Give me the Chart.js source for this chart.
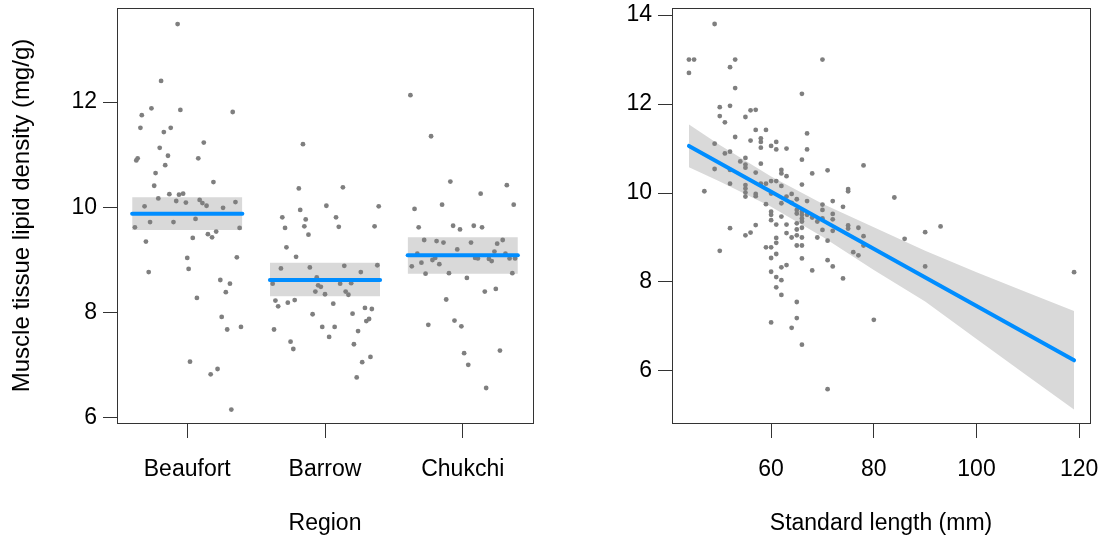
<!DOCTYPE html>
<html>
<head>
<meta charset="utf-8">
<script src="https://cdn.jsdelivr.net/npm/chart.js@4.4.1/dist/chart.umd.min.js"></script>
<style>
  html, body { margin: 0; padding: 0; background: #fff; }
  #wrap { position: relative; width: 1102px; height: 539px; }
  canvas { position: absolute; top: 0; }
</style>
</head>
<body>
<div id="wrap">
  <canvas id="regionChart" width="551" height="539" style="left:0"></canvas>
  <canvas id="lengthChart" width="551" height="539" style="left:551px"></canvas>
</div>
<script>
// left panel: lipid density by region (partial residuals, jittered)
const regions = ['Beaufort', 'Barrow', 'Chukchi'];
const regionFit = [9.88, 8.62, 9.09];
const regionUpper = [10.19, 8.95, 9.43];
const regionLower = [9.57, 8.31, 8.74];

const beaufortJitter = [-0.07, -0.19, -0.26, -0.05, 0.33, -0.33, -0.34, -0.12, -0.17, 0.12, -0.20, -0.14, 0.08, -0.36, -0.37, -0.16, -0.23, 0.19, -0.24, -0.13, -0.06, -0.03, -0.21, -0.08, -0.01, 0.09, 0.11, 0.14, -0.31, 0.26, 0.35, 0.06, -0.27, -0.10, -0.38, 0.38, -0.30, 0.04, 0.21, 0.15, 0.18, 0.00, 0.36, 0.01, -0.28, 0.24, 0.31, 0.28, 0.07, 0.25, 0.39, 0.29, 0.02, 0.22, 0.17, 0.32];
const beaufortLipid = [13.48, 12.40, 11.88, 11.85, 11.81, 11.75, 11.51, 11.51, 11.43, 11.23, 11.13, 10.98, 10.93, 10.93, 10.89, 10.80, 10.65, 10.48, 10.41, 10.25, 10.24, 10.26, 10.17, 10.12, 10.09, 10.14, 10.08, 10.03, 10.02, 9.99, 10.10, 9.78, 9.72, 9.72, 9.62, 9.61, 9.35, 9.42, 9.54, 9.49, 9.43, 9.04, 9.05, 8.83, 8.77, 8.62, 8.55, 8.39, 8.28, 7.92, 7.73, 7.68, 7.07, 6.93, 6.83, 6.16];

const barrowJitter = [-0.16, -0.19, 0.13, 0.01, 0.39, -0.18, -0.31, -0.14, 0.08, -0.29, -0.15, 0.10, 0.36, -0.12, -0.28, -0.21, -0.32, -0.11, 0.14, 0.38, 0.26, -0.06, -0.38, -0.05, -0.03, 0.11, 0.19, -0.07, 0.00, 0.15, 0.17, -0.36, -0.34, -0.27, -0.22, 0.06, -0.09, 0.20, 0.29, 0.34, 0.30, 0.32, -0.37, -0.02, 0.07, 0.24, 0.03, -0.25, -0.23, 0.21, 0.33, 0.27, 0.23];
const barrowLipid = [11.20, 10.36, 10.38, 10.03, 10.02, 9.95, 9.81, 9.77, 9.81, 9.61, 9.64, 9.63, 9.64, 9.48, 9.24, 9.06, 8.84, 8.86, 8.89, 8.90, 8.77, 8.67, 8.55, 8.52, 8.49, 8.55, 8.56, 8.40, 8.35, 8.40, 8.34, 8.23, 8.12, 8.19, 8.24, 8.17, 7.97, 7.98, 8.09, 8.07, 7.84, 7.88, 7.68, 7.73, 7.73, 7.65, 7.54, 7.45, 7.31, 7.40, 7.16, 7.06, 6.77];

const chukchiJitter = [-0.38, -0.23, -0.09, 0.32, 0.13, -0.35, -0.15, 0.37, -0.32, -0.07, -0.02, 0.08, 0.14, -0.28, -0.19, -0.14, 0.06, 0.25, 0.29, -0.04, 0.23, -0.33, 0.31, -0.22, -0.20, 0.09, 0.11, 0.19, 0.21, 0.34, 0.38, -0.37, -0.30, -0.17, -0.27, -0.10, 0.36, 0.03, 0.24, 0.16, -0.12, -0.25, -0.06, -0.01, 0.01, 0.27, 0.04, 0.17];
const chukchiLipid = [12.13, 11.35, 10.49, 10.42, 10.26, 9.97, 10.05, 10.05, 9.62, 9.65, 9.58, 9.65, 9.62, 9.38, 9.36, 9.33, 9.33, 9.31, 9.38, 9.20, 9.16, 9.12, 9.12, 9.00, 9.04, 9.04, 9.03, 9.02, 8.98, 9.03, 9.03, 8.88, 8.95, 8.92, 8.74, 8.75, 8.75, 8.66, 8.45, 8.40, 8.25, 7.77, 7.85, 7.74, 7.23, 7.28, 7.01, 6.57];

// right panel: lipid density vs standard length
const standardLength = [49, 44, 45, 44, 52, 53, 53, 50, 52, 50, 51, 55, 56, 57, 57, 59, 53, 56, 58, 58, 58, 60, 61, 61, 63, 49, 51, 52, 55, 54, 55, 55, 58, 49, 52, 57, 62, 62, 63, 52, 47, 59, 60, 61, 58, 55, 55, 55, 55, 57, 57, 60, 62, 63, 64, 65, 59, 62, 64,
  60, 60, 60, 62, 65, 52, 57, 56, 55, 61, 63, 65, 65, 63, 64, 65, 61, 61, 60, 59, 65, 50, 61, 60, 63, 62, 60, 61, 62, 61, 62, 65, 65, 64, 60,
  70, 66, 67, 67, 66, 71, 78, 68, 66, 75, 75, 84, 67, 70, 72, 74, 65, 66, 66, 66, 66, 68, 69, 70, 70, 72, 72, 66, 66, 69, 70, 72, 75, 75, 77, 78, 78, 71, 66, 86, 90, 93, 66, 71, 72, 68, 76, 77, 74, 90, 80, 66, 71, 119, 67];
const lengthLipid = [13.80, 13.00, 13.00, 12.70, 12.83, 13.00, 12.36, 11.93, 11.96, 11.73, 11.59, 11.71, 11.86, 11.87, 11.42, 11.42, 11.26, 11.18, 11.23, 11.15, 11.02, 11.06, 11.15, 10.98, 11.00, 11.11, 10.89, 10.93, 10.79, 10.71, 10.64, 10.57, 10.66, 10.54, 10.52, 10.46, 10.52, 10.44, 10.38, 10.21, 10.04, 10.21, 10.27, 10.27, 10.21, 10.18, 10.10, 10.01, 9.92, 9.98, 9.93, 9.99, 10.16, 9.92, 9.98, 9.86, 9.75, 9.77, 9.78,
  9.58, 9.51, 9.39, 9.47, 9.54, 9.21, 9.28, 9.11, 9.05, 9.29, 9.29, 9.32, 9.18, 9.10, 9.00, 9.05, 8.99, 8.88, 8.78, 8.78, 8.82, 8.70, 8.63, 8.54, 8.38, 8.33, 8.23, 8.11, 8.04, 7.88, 7.71, 7.55, 7.19, 6.97, 7.09,
  13.00, 12.23, 11.34, 10.98, 10.75, 10.51, 10.62, 10.44, 10.19, 10.09, 10.04, 9.90, 9.82, 9.74, 9.82, 9.69, 9.62, 9.58, 9.51, 9.43, 9.36, 9.45, 9.36, 9.62, 9.43, 9.53, 9.41, 9.22, 9.00, 9.00, 9.17, 9.15, 9.27, 9.20, 9.22, 9.03, 8.82, 8.93, 8.82, 8.97, 9.12, 9.25, 8.53, 8.49, 8.35, 8.26, 8.67, 8.60, 8.08, 8.35, 7.15, 6.59, 5.59, 8.22, 9.51];

const fitLength = [44, 119];
const fitLipid = [11.06, 6.24];
const bandLength = [44, 50, 60, 70, 80, 90, 100, 110, 119];
const bandUpper = [11.54, 11.08, 10.37, 9.76, 9.23, 8.70, 8.22, 7.76, 7.35];
const bandLower = [10.58, 10.26, 9.69, 9.02, 8.27, 7.56, 6.72, 5.88, 5.13];

const FONT = { family: '"Liberation Sans", Arial, sans-serif', size: 23 };
const YTITLE_FONT = { family: '"Liberation Sans", Arial, sans-serif', size: 24 };
const AXIS_COLOR = '#333333';
const TEXT_COLOR = '#000000';
const POINT_COLOR = '#7f7f7f';
const LINE_COLOR = '#008dff';
const BAND_COLOR = '#d9d9d9';

// R-style box round the plot region
const boxPlugin = {
  id: 'box',
  afterDraw(chart) {
    const { ctx, chartArea: a } = chart;
    ctx.save();
    ctx.strokeStyle = AXIS_COLOR;
    ctx.lineWidth = 1;
    ctx.strokeRect(Math.round(a.left) + 0.5, Math.round(a.top) + 0.5,
      Math.round(a.right - a.left), Math.round(a.bottom - a.top));
    ctx.restore();
  }
};

function xAxis(min, max, step, title, callback) {
  return {
    type: 'linear', min, max,
    afterFit(s) { s.height = 116; s.paddingLeft = 0; s.paddingRight = 0; },
    grid: { display: true, drawOnChartArea: false, drawTicks: true, tickLength: 15, tickColor: AXIS_COLOR, tickWidth: 1 },
    border: { display: false },
    ticks: { stepSize: step, includeBounds: false, autoSkip: false, maxRotation: 0, font: FONT, color: TEXT_COLOR, padding: 18, callback },
    title: { display: true, text: title, font: FONT, color: TEXT_COLOR, padding: { top: 0, bottom: 2 } }
  };
}

function yAxis(min, max, width, title) {
  return {
    type: 'linear', min, max,
    afterFit(s) { s.width = width; s.paddingTop = 0; s.paddingBottom = 0; },
    grid: { display: true, drawOnChartArea: false, drawTicks: true, tickLength: 14, tickColor: AXIS_COLOR, tickWidth: 1 },
    border: { display: false },
    ticks: { stepSize: 2, includeBounds: false, font: FONT, color: TEXT_COLOR, padding: 6 },
    title: { display: !!title, text: title || '', font: YTITLE_FONT, color: TEXT_COLOR, padding: { top: 8, bottom: 0 } }
  };
}

function pointSet(data) {
  return { type: 'scatter', data, pointRadius: 2.4, pointHoverRadius: 2.4, backgroundColor: POINT_COLOR, borderWidth: 0 };
}

function lineSet(data) {
  return { type: 'line', data, borderColor: LINE_COLOR, borderWidth: 4, borderCapStyle: 'round', pointRadius: 0, fill: false };
}

function bandSet(data, fill) {
  return { type: 'line', data, borderWidth: 0, borderColor: 'rgba(0,0,0,0)', backgroundColor: BAND_COLOR, pointRadius: 0, fill };
}

const baseOptions = {
  responsive: false,
  animation: false,
  devicePixelRatio: 1,
  plugins: { legend: { display: false }, tooltip: { enabled: false } }
};

// left chart
const regionJitter = [beaufortJitter, barrowJitter, chukchiJitter];
const regionLipid = [beaufortLipid, barrowLipid, chukchiLipid];

const leftLines = regions.map((r, i) => lineSet([
  { x: i + 1 - 0.4, y: regionFit[i] }, { x: i + 1 + 0.4, y: regionFit[i] }
]));
const leftPoints = regions.map((r, i) => pointSet(
  regionJitter[i].map((j, k) => ({ x: i + 1 + j, y: regionLipid[i][k] }))
));
const leftBands = [];
regions.forEach((r, i) => {
  leftBands.push(bandSet([{ x: i + 1 - 0.4, y: regionUpper[i] }, { x: i + 1 + 0.4, y: regionUpper[i] }], '+1'));
  leftBands.push(bandSet([{ x: i + 1 - 0.4, y: regionLower[i] }, { x: i + 1 + 0.4, y: regionLower[i] }], false));
});

new Chart(document.getElementById('regionChart'), {
  type: 'scatter',
  data: { datasets: [...leftLines, ...leftPoints, ...leftBands] },
  options: {
    ...baseOptions,
    layout: { padding: { left: 0, right: 18, top: 8, bottom: 0 } },
    scales: {
      x: xAxis(0.49, 3.51, 1, 'Region', v => regions[v - 1] || ''),
      y: yAxis(5.905, 13.785, 117, 'Muscle tissue lipid density (mg/g)')
    }
  },
  plugins: [boxPlugin]
});

// right chart
new Chart(document.getElementById('lengthChart'), {
  type: 'scatter',
  data: {
    datasets: [
      lineSet(fitLength.map((x, i) => ({ x, y: fitLipid[i] }))),
      pointSet(standardLength.map((x, i) => ({ x, y: lengthLipid[i] }))),
      bandSet(bandLength.map((x, i) => ({ x, y: bandUpper[i] })), '+1'),
      bandSet(bandLength.map((x, i) => ({ x, y: bandLower[i] })), false)
    ]
  },
  options: {
    ...baseOptions,
    layout: { padding: { left: 0, right: 12, top: 8, bottom: 0 } },
    scales: {
      x: xAxis(40.7, 122.1, 20, 'Standard length (mm)'),
      y: yAxis(4.83, 14.16, 121, '')
    }
  },
  plugins: [boxPlugin]
});
</script>
</body>
</html>
